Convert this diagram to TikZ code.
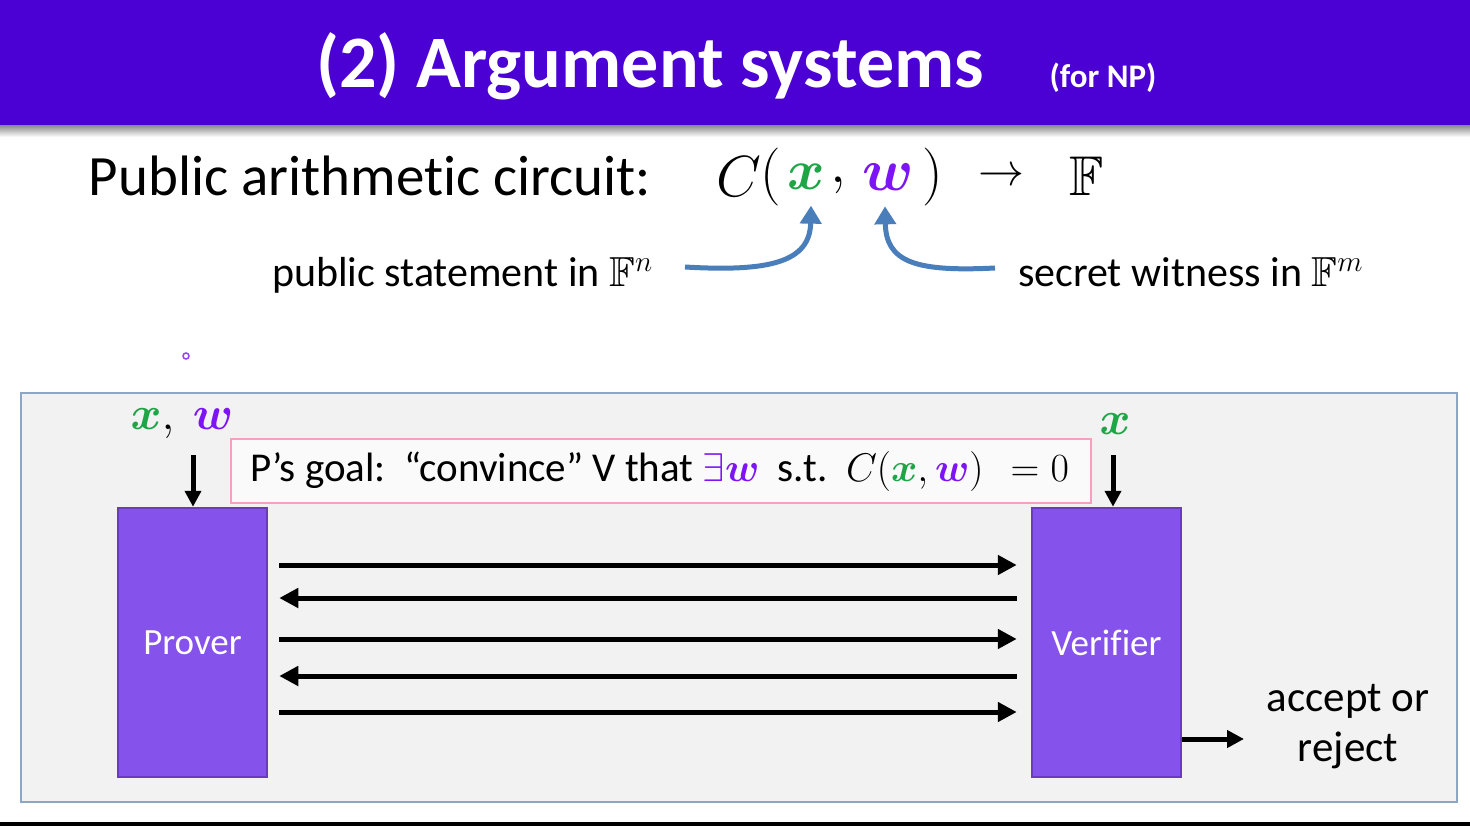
\RequirePackage{fix-cm}
\documentclass[tikz,border=0pt]{standalone}
\usepackage{amsmath,amssymb}
\usepackage{fontspec}
\setmainfont{Carlito}[Ligatures=NoCommon]
\usepackage{bm}
\usetikzlibrary{arrows.meta,calc}
\definecolor{titlebar}{RGB}{75,0,212}
\definecolor{boxfill}{RGB}{134,82,236}
\definecolor{boxline}{RGB}{104,60,192}
\definecolor{panelfill}{RGB}{242,242,242}
\definecolor{panelline}{RGB}{140,166,196}
\definecolor{pinkline}{RGB}{245,160,190}
\definecolor{xgreen}{RGB}{30,165,70}
\definecolor{wpurple}{RGB}{125,20,245}
\definecolor{curveblue}{RGB}{74,126,187}
\newcommand{\fs}[1]{\fontsize{#1}{#1}\selectfont}
\tikzset{
  txt/.style={inner sep=0pt, outer sep=0pt},
  party/.style={draw=boxline, line width=2.5pt, fill=boxfill, minimum width=149pt, minimum height=269pt, inner sep=0pt, text=white, font=\fs{37}},
  msg/.style={line width=5pt, -{Triangle[length=19pt,width=19pt]}},
  curvearrow/.style={curveblue, line width=5pt, -{Triangle[length=18pt,width=21pt]}},
}
\begin{document}
\begin{tikzpicture}[x=1pt,y=-1pt]
\useasboundingbox (0,0) rectangle (1470,826);
\fill[white] (0,0) rectangle (1470,826);
% title bar
\shade[top color=black!50, bottom color=white] (0,124) rectangle (1470,137);
\fill[titlebar] (0,0) rectangle (1470,125);
\node[txt, text=white, font=\fs{74}\bfseries] (title) at (650,66) {(2) Argument systems};
\node[txt, text=white, font=\fs{33}\bfseries] (fornp) at (1103,78) {(for NP)};
% circuit line
\node[txt, font=\fs{57}] (pac) at (370,176) {Public arithmetic circuit:};
\node[txt, font=\fs{58}] (cc) at (739,177) {$C$};
\node[txt, font=\fs{58}] (lpar) at (771,177) {$($};
\node[txt, font=\fs{57}] (xv) at (806,177) {$\color{xgreen}\bm{x}$};
\node[txt, font=\fs{58}] (comma) at (838,185) {$,$};
\node[txt, font=\fs{60}] (wv) at (888,177) {$\color{wpurple}\bm{w}$};
\node[txt, font=\fs{58}] (rpar) at (933,177) {$)$};
\node[txt, font=\fs{46}] (to) at (1001,177) {$\rightarrow$};
\node[txt, font=\fs{56}] (field) at (1087,176) {$\mathbb{F}$};
\node[txt, font=\fs{42}, anchor=base west] (pubst) at (272,287) {public statement in $\mathbb{F}^n$};
\node[txt, font=\fs{42}, anchor=base west] (secw) at (1018,287) {secret witness in $\mathbb{F}^m$};
\coordinate (c1s) at (685,267);
\coordinate (c2s) at (995,268);
\draw[curvearrow] (c1s) .. controls (770,272) and (810,262) .. ([xshift=5pt,yshift=-16pt]xv.south);
\draw[curvearrow] (c2s) .. controls (915,272) and (886,262) .. ([xshift=-3pt,yshift=-16pt]wv.south);
% cursor dot
\draw[wpurple!80, line width=1.5pt] (186,356) circle (3pt);
% panel
\draw[panelline, fill=panelfill, line width=1.5pt] (21,393) rectangle (1457,802);
% goal box
\node[draw=pinkline, line width=1.2pt, fill=white!60!panelfill, minimum width=860pt, minimum height=64pt, inner sep=0pt] (goal) at (661,471) {};
\node[txt, font=\fs{41}, anchor=west] (goaltxt) at (250,471) {P’s goal:\ \ “convince” V that {\fs{40}\color{wpurple}$\exists\bm{w}$}\ \ s.t.\ \ {\fs{40}$C(\color{xgreen}\bm{x}\color{black},\color{wpurple}\bm{w}\color{black})\hspace{0.4em}= 0$}};
% parties
\node[party] (prover) at (192.5,642.5) {Prover};
\node[party] (verifier) at (1106.5,642.5) {Verifier};
% inputs
\node[txt, font=\fs{47}] (pin) at (182,424) {$\color{xgreen}\bm{x}\color{black},\ \color{wpurple}\bm{w}$};
\node[txt, font=\fs{47}] (vin) at (1115,424) {$\color{xgreen}\bm{x}$};
\coordinate (pa) at (193,455);
\coordinate (va) at (1113,455);
\draw[msg, -{Triangle[length=16pt,width=16pt]}] (pa) -- (pa |- prover.north);
\draw[msg, -{Triangle[length=16pt,width=16pt]}] (va) -- (va |- verifier.north);
% messages
\draw[msg, shorten <=11pt, shorten >=14pt] (prover.east |- 0,565) -- (verifier.west |- 0,565);
\draw[msg, shorten <=14pt, shorten >=11pt] (verifier.west |- 0,598) -- (prover.east |- 0,598);
\draw[msg, shorten <=11pt, shorten >=14pt] (prover.east |- 0,639) -- (verifier.west |- 0,639);
\draw[msg, shorten <=14pt, shorten >=11pt] (verifier.west |- 0,676) -- (prover.east |- 0,676);
\draw[msg, shorten <=11pt, shorten >=14pt] (prover.east |- 0,712) -- (verifier.west |- 0,712);
% output
\node[txt, font=\fs{43}, align=center] (out) at (1348,727) {accept or\\[7pt]reject};
\coordinate (oe) at (1244,739);
\draw[msg, -{Triangle[length=17pt,width=17pt]}] (verifier.east |- oe) -- (oe);
% bottom bar
\fill[black] (0,822) rectangle (1470,826);
\end{tikzpicture}
\end{document}
